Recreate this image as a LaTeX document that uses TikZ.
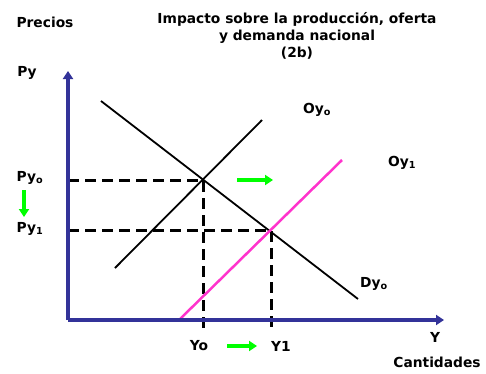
\documentclass[tikz,border=0pt]{standalone}
\usepackage{fontspec}
\setmainfont{DejaVu Sans}
\usetikzlibrary{arrows.meta,calc}
\definecolor{ejes}{RGB}{51,51,153}
\definecolor{rosa}{RGB}{255,51,204}
\definecolor{verde}{RGB}{0,255,0}

\begin{document}
\begin{tikzpicture}[x=1pt,y=-1pt,
    rotulo/.style={font=\bfseries\fontsize{13.8}{17}\selectfont,inner sep=1pt},
    flecha/.style={verde,line width=3.5pt,-{Triangle[length=8pt,width=10pt]}},
    guia/.style={line width=3pt,dash pattern=on 11pt off 6pt}]
    \useasboundingbox (0,0) rectangle (486,373);

    % puntos de las curvas
    \coordinate (d0) at (101,101);
    \coordinate (d1) at (358,299);
    \coordinate (s0) at (115,268);
    \coordinate (s1) at (262,120);
    \coordinate (t0) at (179,320);
    \coordinate (t1) at (342,160);
    \coordinate (E0) at (203,180);
    \coordinate (E1) at (271,230);
    \coordinate (O) at (68,320);
    \coordinate (ejeY) at (68,71);
    \coordinate (ejeX) at (444,320);
    \coordinate (baseA) at (203,330);
    \coordinate (baseB) at (271,330);

    \draw[guia] (O |- E0) -- (E0) -- (baseA);
    \draw[guia] (O |- E1) -- (E1) -- (baseB);

    \draw[line width=1.8pt] (d0) -- (d1);
    \draw[line width=1.8pt] (s0) -- (s1);
    \draw[rosa,line width=2.5pt] (t0) -- (t1);

    \draw[ejes,line width=3.5pt,-{Triangle[length=8pt,width=10pt]}] (O) -- (ejeY);
    \draw[ejes,line width=3.5pt,-{Triangle[length=8pt,width=10pt]}] (O) -- (ejeX);

    \node[rotulo] (titulo) at (297,36) [align=center] {Impacto sobre la producción, oferta\\y demanda nacional\\(2b)};
    \node[rotulo] (precios) at (45,22) {Precios};
    \node[rotulo] (py) at (27,73) {Py};
    \node[rotulo] (pyo) at (30,178) {Py\textsubscript{o}};
    \node[rotulo] (py1) at (30,229) {Py\textsubscript{1}};
    \node[rotulo] (oyo) at (317,110) {Oy\textsubscript{o}};
    \node[rotulo] (oy1) at (402,163) {Oy\textsubscript{1}};
    \node[rotulo] (dyo) at (374,284) {Dy\textsubscript{o}};
    \node[rotulo] (yo) at (199,346) {Yo};
    \node[rotulo] (y1) at (281,346) {Y1};
    \node[rotulo] (y) at (435,337) {Y};
    \node[rotulo] (cantidades) at (437,362) {Cantidades};

    % flechas verdes
    \coordinate (m0) at (237,180);
    \coordinate (m1) at (273,180);
    \coordinate (v0) at (24,190);
    \coordinate (v1) at (24,217);
    \coordinate (h0) at (227,346);
    \coordinate (h1) at (257,346);
    \draw[flecha] (m0) -- (m1);
    \draw[flecha] (v0) -- (v1);
    \draw[flecha] (h0) -- (h1);
\end{tikzpicture}
\end{document}
